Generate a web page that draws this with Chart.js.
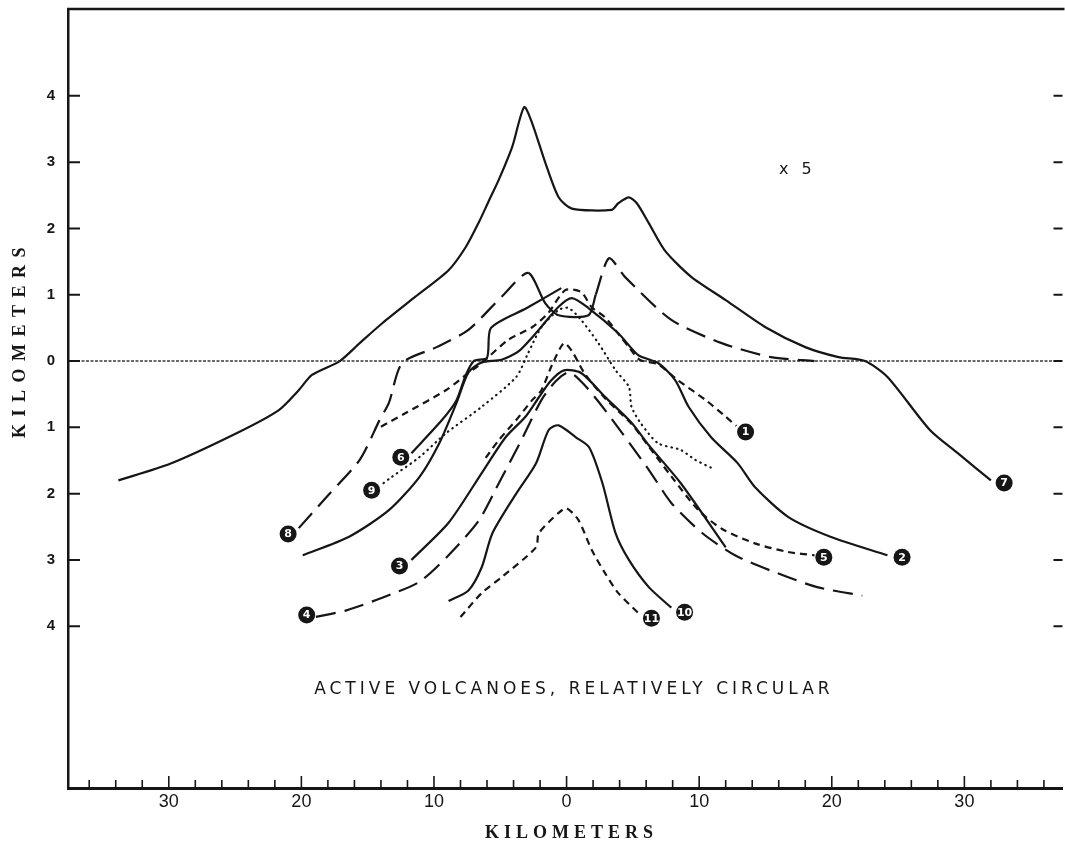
<!DOCTYPE html>
<html>
<head>
<meta charset="utf-8">
<title>Active volcanoes, relatively circular</title>
<script src="https://cdn.jsdelivr.net/npm/chart.js@4.4.0/dist/chart.umd.min.js"></script>
<style>
  html, body { margin: 0; padding: 0; background: #fff; overflow: hidden; }
  #wrap { width: 1071px; height: 844px; position: relative; }
</style>
</head>
<body>
<div id="wrap"><canvas id="profiles"></canvas></div>
<script>
// Cross-section profiles: horizontal distance (km) vs elevation (km, below sea level negative)

const prof1Dist = [-14.0, -12.1, -9.1, -7.4, -6.4, -4.4, -2.6, -1.4, -0.1, 1.1, 1.9, 2.9, 4.1, 4.7, 5.5, 6.9, 8.4, 10.5, 12.0, 12.8];
const prof1Elev = [-0.99, -0.78, -0.44, -0.18, -0.03, 0.32, 0.51, 0.72, 1.07, 1.04, 0.81, 0.66, 0.36, 0.21, 0.02, -0.05, -0.29, -0.59, -0.84, -0.98];

const prof2Dist = [-19.9, -16.4, -13.4, -11.1, -9.6, -8.3, -7.4, -6.4, -4.9, -3.6, -2.1, -0.6, 0.4, 1.65, 3.9, 5.4, 6.9, 8.2, 9.2, 10.9, 12.9, 14.2, 16.7, 19.9, 24.2];
const prof2Elev = [-2.93, -2.65, -2.25, -1.75, -1.24, -0.63, -0.17, -0.02, 0.02, 0.15, 0.47, 0.82, 0.95, 0.80, 0.42, 0.09, -0.03, -0.29, -0.69, -1.15, -1.54, -1.90, -2.35, -2.65, -2.93];

const prof3Dist = [-11.7, -8.9, -6.4, -4.6, -3.1, -2.1, -1.2, -0.2, 1.1, 2.9, 4.9, 6.2, 8.6, 12.0];
const prof3Elev = [-3.00, -2.44, -1.69, -1.15, -0.84, -0.55, -0.30, -0.14, -0.18, -0.54, -0.93, -1.27, -1.84, -2.81];

const prof4Dist = [-18.9, -16.6, -13.9, -11.1, -8.9, -6.6, -5.1, -3.4, -1.9, -0.8, 0.2, 1.3, 2.9, 6.2, 7.9, 10.2, 12.7, 15.9, 18.9, 22.3];
const prof4Elev = [-3.86, -3.76, -3.57, -3.33, -2.93, -2.40, -1.84, -1.19, -0.59, -0.30, -0.17, -0.35, -0.74, -1.64, -2.14, -2.59, -2.93, -3.20, -3.41, -3.54];

const prof5Dist = [-6.1, -5.1, -3.8, -2.6, -1.9, -1.1, -0.2, 0.4, 1.4, 2.9, 4.9, 6.2, 7.9, 9.9, 11.7, 14.2, 16.7, 18.7];
const prof5Elev = [-1.46, -1.19, -0.89, -0.59, -0.44, -0.06, 0.27, 0.15, -0.20, -0.56, -0.95, -1.29, -1.74, -2.24, -2.53, -2.75, -2.88, -2.93];

const prof6Dist = [-11.7, -9.4, -8.3, -7.6, -7.0, -6.0, -5.7, -3.0, -0.4];
const prof6Elev = [-1.39, -0.89, -0.59, -0.21, 0.0, 0.05, 0.50, 0.80, 1.10];

const prof7Dist = [-33.8, -29.9, -24.7, -21.7, -20.2, -19.2, -17.1, -15.6, -13.9, -11.4, -8.9, -7.6, -6.6, -5.9, -5.1, -4.1, -3.2, -2.6, -1.6, -0.6, 0.4, 3.4, 3.9, 4.7, 5.3, 6.2, 7.4, 9.4, 12.0, 15.0, 18.0, 20.5, 22.5, 24.2, 27.4, 29.5, 32.0];
const prof7Elev = [-1.80, -1.55, -1.07, -0.74, -0.44, -0.21, 0.0, 0.27, 0.57, 0.97, 1.37, 1.72, 2.10, 2.40, 2.74, 3.23, 3.83, 3.59, 2.99, 2.47, 2.30, 2.28, 2.38, 2.47, 2.38, 2.08, 1.67, 1.27, 0.92, 0.51, 0.21, 0.06, 0.0, -0.24, -1.04, -1.39, -1.80];

const prof8Dist = [-20.2, -18.1, -15.6, -14.1, -13.4, -12.4, -9.8, -7.4, -4.9, -2.9, -1.6, -0.6, 1.65, 2.2, 3.2, 4.4, 7.9, 11.7, 15.4, 18.7];
const prof8Elev = [-2.52, -2.05, -1.49, -0.89, -0.63, -0.03, 0.21, 0.47, 0.97, 1.33, 0.87, 0.69, 0.69, 1.00, 1.55, 1.27, 0.62, 0.27, 0.06, 0.0];

const prof9Dist = [-13.8, -13.2, -11.1, -9.1, -6.4, -3.8, -2.9, -1.9, -0.6, 0.15, 1.1, 2.4, 3.7, 4.7, 4.9, 5.6, 6.9, 8.6, 9.7, 10.9];
const prof9Elev = [-1.84, -1.75, -1.45, -1.09, -0.69, -0.24, 0.12, 0.51, 0.77, 0.80, 0.62, 0.27, -0.14, -0.39, -0.69, -0.94, -1.24, -1.34, -1.49, -1.61];

const prof10Dist = [-8.9, -7.4, -6.4, -5.6, -3.8, -2.3, -1.35, -0.6, 0.7, 1.7, 2.7, 3.7, 4.7, 6.2, 7.9];
const prof10Elev = [-3.62, -3.46, -3.11, -2.60, -2.00, -1.54, -1.04, -0.97, -1.15, -1.30, -1.84, -2.60, -3.00, -3.41, -3.72];

const prof11Dist = [-8.0, -6.4, -4.9, -2.3, -2.1, -0.6, 0.0, 0.9, 1.9, 2.9, 3.9, 5.4];
const prof11Elev = [-3.86, -3.50, -3.26, -2.81, -2.60, -2.29, -2.22, -2.40, -2.85, -3.20, -3.50, -3.80];

// numbered circles at the labelled end of each profile (index = number - 1)
const markerDist = [13.5, 25.3, -12.6, -19.6, 19.4, -12.5, 33.0, -21.0, -14.7, 8.9, 6.4];
const markerElev = [-1.07, -2.96, -3.09, -3.83, -2.96, -1.45, -1.84, -2.61, -1.95, -3.79, -3.88];

const xTickLabels = [-30, -20, -10, 0, 10, 20, 30];
const yTickLabels = [-4, -3, -2, -1, 0, 1, 2, 3, 4];

const ink = '#161616';
const dashes = {
  solid: [],
  long: [20, 9],
  short: [7, 5],
  dotted: [0.5, 5]
};

const profiles = [
  { n: 1, dist: prof1Dist, elev: prof1Elev, style: 'short' },
  { n: 2, dist: prof2Dist, elev: prof2Elev, style: 'solid' },
  { n: 3, dist: prof3Dist, elev: prof3Elev, style: 'solid' },
  { n: 4, dist: prof4Dist, elev: prof4Elev, style: 'long' },
  { n: 5, dist: prof5Dist, elev: prof5Elev, style: 'short' },
  { n: 6, dist: prof6Dist, elev: prof6Elev, style: 'solid' },
  { n: 7, dist: prof7Dist, elev: prof7Elev, style: 'solid' },
  { n: 8, dist: prof8Dist, elev: prof8Elev, style: 'long' },
  { n: 9, dist: prof9Dist, elev: prof9Elev, style: 'dotted' },
  { n: 10, dist: prof10Dist, elev: prof10Elev, style: 'solid' },
  { n: 11, dist: prof11Dist, elev: prof11Elev, style: 'short' }
];

const X_MIN = -37.6, X_MAX = 37.4;
const Y_MIN = -6.44, Y_MAX = 5.31;

const datasets = profiles.map(p => {
  const ds = {
    label: 'Profile ' + p.n,
    data: p.dist.map((d, i) => ({ x: d, y: p.elev[i] })),
    borderColor: ink,
    borderWidth: 2.2,
    borderDash: dashes[p.style],
    borderCapStyle: p.style === 'dotted' ? 'round' : 'butt',
    pointRadius: 0,
    tension: 0.25,
    fill: false
  };
  // summit crater of profile 8 is drawn as a continuous line
  if (p.n === 8) {
    ds.segment = {
      borderDash: ctx => (ctx.p0.parsed.x >= -2.9 && ctx.p1.parsed.x <= 2.2) ? [] : undefined
    };
  }
  return ds;
});

// sea level
datasets.push({
  label: 'Sea level',
  data: [{ x: X_MIN, y: 0 }, { x: X_MAX, y: 0 }],
  borderColor: '#3a3a3a',
  borderWidth: 1.6,
  borderDash: [3, 1.5],
  pointRadius: 0
});

// end markers
datasets.push({
  label: 'Markers',
  data: markerDist.map((d, i) => ({ x: d, y: markerElev[i] })),
  showLine: false,
  pointRadius: 8.5,
  pointBackgroundColor: ink,
  pointBorderWidth: 0,
  order: -1
});

const frame = {
  id: 'frame',
  afterDatasetsDraw(chart) {
    const { ctx } = chart;
    const meta = chart.getDatasetMeta(chart.data.datasets.length - 1);
    ctx.save();
    ctx.fillStyle = '#fff';
    ctx.font = 'bold 11px "DejaVu Sans"';
    ctx.textAlign = 'center';
    ctx.textBaseline = 'middle';
    meta.data.forEach((pt, i) => ctx.fillText(String(i + 1), pt.x, pt.y + 0.5));
    ctx.restore();
  },
  afterDraw(chart) {
    const { ctx, chartArea: a, scales: { x, y } } = chart;
    ctx.save();
    ctx.strokeStyle = ink;
    ctx.fillStyle = ink;

    // top edge of the frame
    ctx.lineWidth = 2.5;
    ctx.beginPath();
    ctx.moveTo(a.left - 1, a.top);
    ctx.lineTo(a.right + 2, a.top);
    ctx.stroke();

    // inward ticks on both vertical edges
    ctx.lineWidth = 2;
    yTickLabels.forEach(v => {
      const py = y.getPixelForValue(v);
      ctx.beginPath();
      ctx.moveTo(a.left, py); ctx.lineTo(a.left + 12, py);
      ctx.moveTo(a.right, py); ctx.lineTo(a.right - 9, py);
      ctx.stroke();
    });

    // distance ticks every 2 km, longer every 10 km
    ctx.lineWidth = 1.6;
    for (let v = -36; v <= 36; v += 2) {
      const px = x.getPixelForValue(v);
      const len = v % 10 === 0 ? 12 : 8;
      ctx.beginPath();
      ctx.moveTo(px, a.bottom); ctx.lineTo(px, a.bottom - len);
      ctx.stroke();
    }

    ctx.textAlign = 'center';
    ctx.textBaseline = 'middle';

    // axis titles
    ctx.font = 'bold 18px "Liberation Serif"';
    ctx.letterSpacing = '5px';
    ctx.fillText('KILOMETERS', x.getPixelForValue(0) + 5, 833);

    ctx.save();
    ctx.translate(20, 343);
    ctx.rotate(-Math.PI / 2);
    ctx.letterSpacing = '7.5px';
    ctx.fillText('KILOMETERS', 4, 0);
    ctx.restore();

    // annotations
    ctx.font = '17px "DejaVu Sans"';
    ctx.letterSpacing = '4px';
    ctx.fillText('ACTIVE VOLCANOES, RELATIVELY CIRCULAR', x.getPixelForValue(0.4) + 2, y.getPixelForValue(-4.96));

    ctx.font = '16px "DejaVu Sans"';
    ctx.letterSpacing = '4px';
    ctx.fillText('x 5', x.getPixelForValue(17.4), y.getPixelForValue(2.88));

    ctx.restore();
  }
};

new Chart(document.getElementById('profiles'), {
  type: 'line',
  data: { datasets },
  options: {
    responsive: true,
    maintainAspectRatio: false,
    animation: false,
    layout: { padding: { top: 9, right: 2, left: 0, bottom: 0 } },
    plugins: {
      legend: { display: false },
      tooltip: { enabled: false }
    },
    scales: {
      x: {
        type: 'linear',
        min: X_MIN,
        max: X_MAX,
        afterFit: s => { s.height = 56; s.paddingLeft = 0; s.paddingRight = 0; },
        afterBuildTicks: s => { s.ticks = xTickLabels.map(v => ({ value: v })); },
        grid: { display: false, drawTicks: false },
        border: { display: true, color: ink, width: 3 },
        ticks: {
          color: ink,
          padding: 3,
          maxRotation: 0,
          font: { family: 'Liberation Sans', size: 18 },
          callback: v => Math.abs(v)
        }
      },
      y: {
        type: 'linear',
        min: Y_MIN,
        max: Y_MAX,
        afterFit: s => { s.width = 68; s.paddingTop = 0; s.paddingBottom = 0; },
        afterBuildTicks: s => { s.ticks = yTickLabels.map(v => ({ value: v })); },
        grid: { display: false, drawTicks: false },
        border: { display: true, color: ink, width: 2.5 },
        ticks: {
          color: ink,
          padding: 13,
          font: { family: 'Liberation Sans', size: 15, weight: 'bold' },
          callback: v => Math.abs(v)
        }
      }
    }
  },
  plugins: [frame]
});
</script>
</body>
</html>
